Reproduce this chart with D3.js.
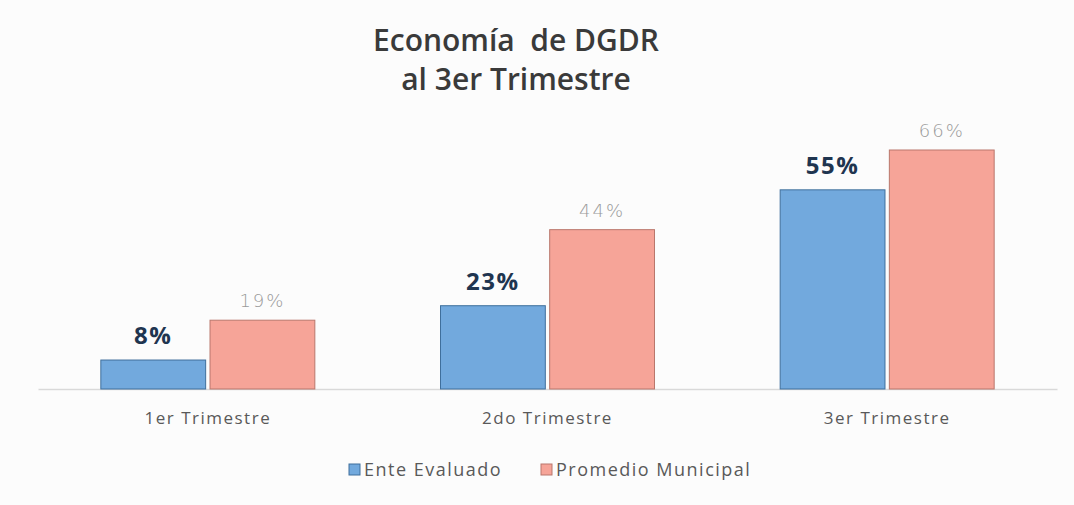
<!DOCTYPE html>
<html>
<head>
<meta charset="utf-8">
<script src="https://cdn.jsdelivr.net/npm/d3@7"></script>
<style>
  body { margin: 0; background: #fff; }
  text { font-family: "Open Sans", "DejaVu Sans", sans-serif; }
</style>
</head>
<body>
<script>
let w = 1074;
let h = 505;

// data
let categories = ["1er Trimestre", "2do Trimestre", "3er Trimestre"];
let seriesNames = ["Ente Evaluado", "Promedio Municipal"];
let ente = [8, 23, 55];
let promedio = [19, 44, 66];
let titleLines = ["Economía  de DGDR", "al 3er Trimestre"];

let colors = ["#72a9dd", "#f6a498"];
let strokes = ["#3f6f9c", "#b9776c"];

let svg = d3.select("body").append("svg")
  .attr("width", w)
  .attr("height", h);

svg.append("rect").attr("width", w).attr("height", h).attr("fill", "#fcfcfc");

// title
svg.selectAll(".title")
  .data(titleLines)
  .enter().append("text")
  .attr("class", "title")
  .attr("x", 516)
  .attr("y", (d, i) => 51 + i * 39)
  .attr("text-anchor", "middle")
  .style("white-space", "pre")
  .style("font-size", "30px")
  .style("font-weight", 600)
  .style("fill", "#3a3a3a")
  .text(d => d);

let baseY = 389;

let xScale = d3.scaleBand()
  .domain(categories)
  .range([38, 1057]);

let xInner = d3.scaleBand()
  .domain(seriesNames)
  .range([0, 214])
  .paddingInner(0.04);

let yScale = d3.scaleLinear()
  .domain([0, 66])
  .range([baseY, 150]);

let groupOff = (xScale.bandwidth() - 214) / 2;

// baseline
let xAxis = d3.axisBottom(xScale).tickSize(0).tickPadding(23);
let gx = svg.append("g")
  .attr("transform", "translate(0," + baseY + ")")
  .call(xAxis);
gx.select(".domain").attr("stroke", "#d9d9d9").attr("stroke-width", 1.5);
gx.selectAll("text")
  .style("font-size", "17px")
  .style("letter-spacing", "1.5px")
  .style("fill", "#595959")
  .style("font-family", "'Open Sans', sans-serif");

let rows = categories.map((c, i) => ({ cat: c, vals: [ente[i], promedio[i]] }));

let groups = svg.selectAll(".grp")
  .data(rows)
  .enter().append("g")
  .attr("class", "grp")
  .attr("transform", d => "translate(" + (xScale(d.cat) + groupOff) + ",0)");

groups.selectAll("rect")
  .data(d => d.vals.map((v, j) => ({ v: v, s: seriesNames[j], j: j })))
  .enter().append("rect")
  .attr("x", d => xInner(d.s))
  .attr("y", d => yScale(d.v))
  .attr("width", xInner.bandwidth())
  .attr("height", d => baseY - yScale(d.v))
  .attr("fill", d => colors[d.j])
  .attr("stroke", d => strokes[d.j])
  .attr("stroke-width", 1);

groups.selectAll(".lbl")
  .data(d => d.vals.map((v, j) => ({ v: v, s: seriesNames[j], j: j })))
  .enter().append("text")
  .attr("class", "lbl")
  .attr("x", d => xInner(d.s) + xInner.bandwidth() / 2)
  .attr("y", d => yScale(d.v) - (d.j == 0 ? 16 : 13))
  .attr("text-anchor", "middle")
  .style("font-size", d => d.j == 0 ? "24px" : "18px")
  .style("font-weight", d => d.j == 0 ? 700 : 300)
  .style("letter-spacing", d => d.j == 0 ? "1.5px" : "2px")
  .style("fill", d => d.j == 0 ? "#1f3550" : "#9a9a9a")
  .style("font-family", d => d.j == 0 ? "'Open Sans', sans-serif" : "'DejaVu Sans', sans-serif")
  .text(d => d.v + "%");

// legend
let legendX = [349, 541];
let legend = svg.selectAll(".legend")
  .data(seriesNames)
  .enter().append("g")
  .attr("class", "legend")
  .attr("transform", (d, i) => "translate(" + legendX[i] + ",464)");

legend.append("rect")
  .attr("width", 11)
  .attr("height", 11)
  .attr("fill", (d, i) => colors[i])
  .attr("stroke", (d, i) => strokes[i]);

legend.append("text")
  .attr("x", 15)
  .attr("y", 12)
  .style("font-size", "18px")
  .style("letter-spacing", "1.5px")
  .style("fill", "#595959")
  .text(d => d);
</script>
</body>
</html>
